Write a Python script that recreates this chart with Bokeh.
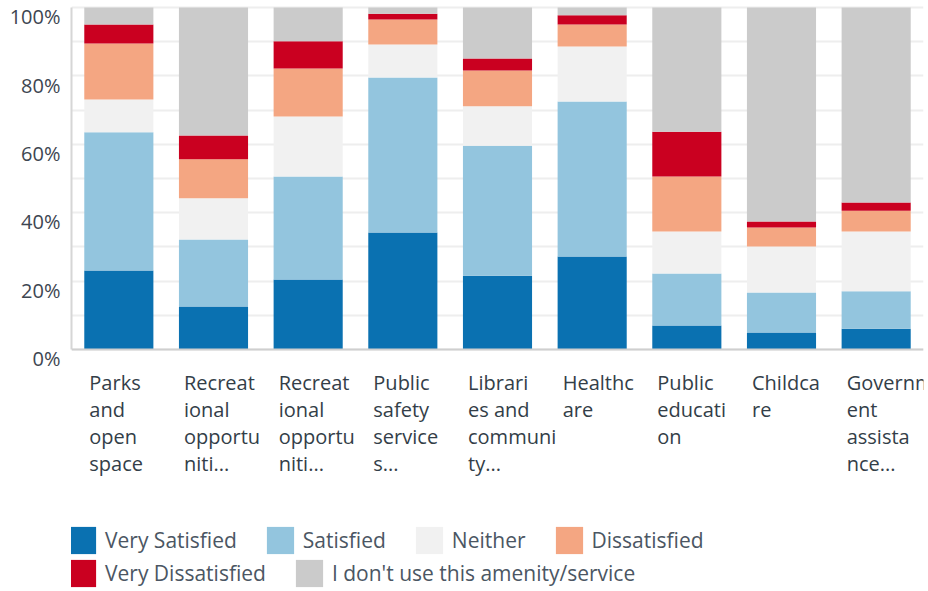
import numpy as np
from bokeh.plotting import figure
from bokeh.models import ColumnDataSource, Range1d, FixedTicker, Legend, LegendItem, Span
from bokeh.core.properties import value
from bokeh.embed import file_html
from bokeh.resources import INLINE

# ---------------- data ----------------
categories = [
    "Parks and open space",
    "Recreational opportuniti... (1)",
    "Recreational opportuniti... (2)",
    "Public safety services...",
    "Libraries and community...",
    "Healthcare",
    "Public education",
    "Childcare",
    "Government assistance...",
]
x_labels = [
    "Parks\nand\nopen\nspace",
    "Recreat\nional\nopportu\nniti...",
    "Recreat\nional\nopportu\nniti...",
    "Public\nsafety\nservice\ns...",
    "Librari\nes and\ncommuni\nty...",
    "Healthc\nare",
    "Public\neducati\non",
    "Childca\nre",
    "Governm\nent\nassista\nnce...",
]
series_names = ["Very Satisfied", "Satisfied", "Neither", "Dissatisfied",
                "Very Dissatisfied", "I don't use this amenity/service"]
very_satisfied = [23.1, 12.6, 20.5, 34.2, 21.6, 27.2, 7.0, 5.0, 6.1]
satisfied = [40.4, 19.6, 30.1, 45.3, 38.0, 45.3, 15.2, 11.7, 10.9]
neither = [9.6, 12.0, 17.5, 9.7, 11.5, 16.1, 12.3, 13.4, 17.5]
dissatisfied = [16.4, 11.4, 14.1, 7.3, 10.5, 6.4, 16.1, 5.6, 6.1]
very_dissatisfied = [5.5, 7.0, 7.9, 1.7, 3.5, 2.7, 13.1, 1.7, 2.4]
dont_use = [5.0, 37.4, 9.9, 1.8, 14.9, 2.3, 36.3, 62.6, 57.0]
colors = ["#0a71b1", "#93c5de", "#f1f1f1", "#f4a682", "#ca0020", "#cbcbcb"]
tick_values = [0, 20, 40, 60, 80, 100]
tick_labels = ["0%", "20%", "40%", "60%", "80%", "100%"]

# ---------------- layout constants ----------------
W, H = 928, 591
px_per_unit = 3.42
y_end = 100 + 7 / px_per_unit
y_start = y_end - H / px_per_unit
label_shift = 2.7  # labels sit just below their gridline

keys = ["vs", "s", "n", "d", "vd", "du"]
src = ColumnDataSource(dict(
    x=np.arange(len(categories)) + 0.5,
    vs=very_satisfied, s=satisfied, n=neither, d=dissatisfied,
    vd=very_dissatisfied, du=dont_use,
))

p = figure(width=W, height=H, output_backend="svg", toolbar_location=None,
           x_range=Range1d(0, len(categories)), y_range=Range1d(y_start, y_end),
           x_axis_location=None, min_border_left=71, min_border_right=5,
           min_border_top=0, min_border_bottom=0)
p.outline_line_color = None
p.background_fill_color = "white"

renderers = p.vbar_stack(keys, x="x", width=0.73, source=src,
                         fill_color=colors, line_color=None)

# grid
p.xgrid.visible = False
p.ygrid.ticker = FixedTicker(ticks=list(range(0, 101, 10)))
p.ygrid.grid_line_color = "#eeeeee"
p.ygrid.grid_line_width = 2

# y axis
ax = p.yaxis[0]
ax.ticker = FixedTicker(ticks=[t - label_shift for t in tick_values])
ax.major_label_overrides = {t - label_shift: lab for t, lab in zip(tick_values, tick_labels)}
ax.bounds = (0, 100)
ax.axis_line_color = "#d6d6d6"
ax.axis_line_width = 2
ax.major_tick_line_color = None
ax.minor_tick_line_color = None
ax.major_tick_out = 0
ax.major_tick_in = 0
ax.major_label_standoff = 11
ax.major_label_text_font = "Open Sans"
ax.major_label_text_font_size = "20px"
ax.major_label_text_color = "#3d4651"

# baseline
p.add_layout(Span(location=0, dimension="width", line_color="#cfcfcf", line_width=2))

# category labels
lab_src = ColumnDataSource(dict(x=np.arange(len(categories)) + 0.5,
                                y=np.zeros(len(categories)), text=x_labels))
p.text(x="x", y="y", text="text", source=lab_src, x_offset=-29.5, y_offset=19,
       text_align="left", text_baseline="top", text_line_height=1.01,
       text_font=value("Open Sans"), text_font_size=value("20px"),
       text_color="#333e48")

# legends
def make_legend(idx, loc):
    lg = Legend(items=[LegendItem(label=series_names[i], renderers=[renderers[i]]) for i in idx],
                orientation="horizontal", location=loc,
                glyph_width=34, glyph_height=34, label_height=34, label_standoff=6,
                spacing=26, padding=0, margin=0, border_line_color=None,
                background_fill_alpha=0, label_text_font="Open Sans",
                label_text_font_size="21px", label_text_color="#4b5663")
    return lg

p.add_layout(make_legend([0, 1, 2, 3], (-6, 34)))
p.add_layout(make_legend([4, 5], (-6, 1)))

open("out.html", "w").write(file_html(p, INLINE))
